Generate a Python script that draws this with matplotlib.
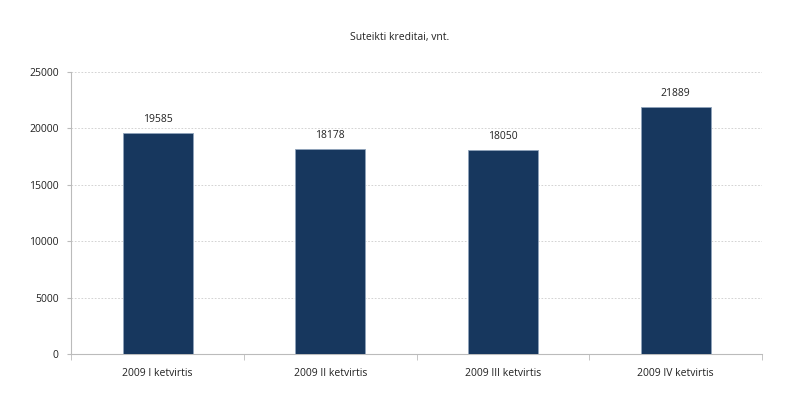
import matplotlib
matplotlib.use("Agg")
import matplotlib.pyplot as plt
import numpy as np

categories = ["2009 I ketvirtis", "2009 II ketvirtis", "2009 III ketvirtis", "2009 IV ketvirtis"]
values = [19585, 18178, 18050, 21889]
yticks = [0, 5000, 10000, 15000, 20000, 25000]
title = "Suteikti kreditai, vnt."

plt.rcParams['font.family'] = ['Open Sans', 'DejaVu Sans']

fig = plt.figure(figsize=(8, 4.16), dpi=100)
ax = fig.add_axes([0.089, 0.149, 0.8635, 0.678])

x = np.arange(len(categories))
bars = ax.bar(x, values, width=0.405, color="#17375e", edgecolor="#8fa3bb", linewidth=0.6, zorder=3)
for xi, v in zip(x, values):
    ax.text(xi, v + 700, str(v), ha="center", va="bottom", fontsize=7.5, color="#222222")

ax.set_xlim(-0.5, len(categories) - 0.5)
ax.set_ylim(0, 25000)
ax.set_yticks(yticks)
ax.set_yticklabels([str(t) for t in yticks], fontsize=7.5, color="#222222")
ax.set_xticks(x)
ax.set_xticklabels(categories, fontsize=7.5, color="#222222")
ax.tick_params(axis="x", length=0, pad=10)
ax.set_xticks(np.arange(-0.5, len(categories)), minor=True)
ax.tick_params(axis="x", which="minor", length=4, color="#bbbbbb", direction="out")
ax.tick_params(axis="y", length=3, color="#bbbbbb", pad=6)

ax.grid(axis="y", linestyle=(0, (2, 2)), color="#cccccc", linewidth=0.6, zorder=0)
for s in ["top", "right"]:
    ax.spines[s].set_visible(False)
ax.spines["left"].set_color("#bbbbbb")
ax.spines["bottom"].set_color("#bbbbbb")

fig.text(0.5, 0.909, title, ha="center", va="center", fontsize=7.5, color="#222222")

fig.savefig("out.png", dpi=100)
